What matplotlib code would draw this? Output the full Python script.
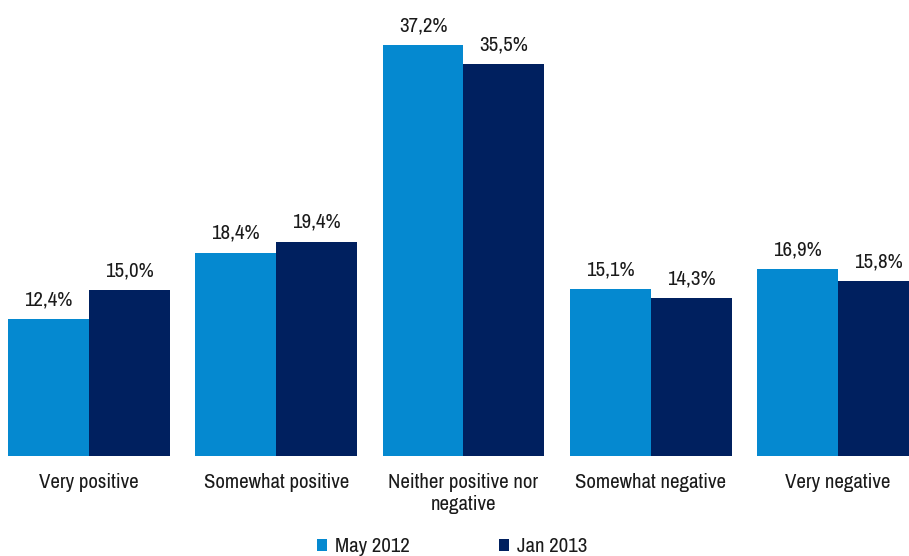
import matplotlib
matplotlib.use("Agg")
import matplotlib.pyplot as plt
from matplotlib import font_manager
import numpy as np

categories = ["Very positive", "Somewhat positive", "Neither positive nor\nnegative",
              "Somewhat negative", "Very negative"]
series_names = ["May 2012", "Jan 2013"]
may_2012 = [12.4, 18.4, 37.2, 15.1, 16.9]
jan_2013 = [15.0, 19.4, 35.5, 14.3, 15.8]
colors = ["#0589D0", "#00205F"]

avail = {f.name for f in font_manager.fontManager.ttflist}
fam = [f for f in ["Liberation Sans Narrow", "Archivo Narrow", "Liberation Sans", "DejaVu Sans"] if f in avail]
plt.rcParams['font.family'] = fam

FS = 15
W, H = 909, 556
fig = plt.figure(figsize=(W / 100, H / 100), dpi=100)
base_px = 456
ax = fig.add_axes([0, (H - base_px) / H, 1, base_px / H])

x = np.arange(len(categories))
bw = 0.432
b1 = ax.bar(x - bw / 2, may_2012, bw, color=colors[0], label=series_names[0])
b2 = ax.bar(x + bw / 2, jan_2013, bw, color=colors[1], label=series_names[1])

for bars, vals in ((b1, may_2012), (b2, jan_2013)):
    for b, v in zip(bars, vals):
        ax.annotate(f"{v:.1f}%".replace(".", ","),
                    (b.get_x() + b.get_width() / 2, b.get_height()),
                    xytext=(0, 7), textcoords="offset points",
                    ha="center", va="bottom", fontsize=FS, color="#1a1a1a")

px_per_unit = 187.25
ax.set_xlim(-89 / px_per_unit, (W - 89) / px_per_unit)
ax.set_ylim(0, base_px / (411 / 37.2))

ax.set_xticks(x)
ax.set_xticklabels(categories, fontsize=FS, color="#1a1a1a", linespacing=1.2)
ax.tick_params(axis="x", length=0, pad=12)
ax.set_yticks([])
for s in ax.spines.values():
    s.set_visible(False)

fig.legend(handles=[b1, b2], labels=series_names, loc="center",
           bbox_to_anchor=(452 / W, 1 - 547 / H), ncol=2, frameon=False,
           fontsize=FS, handlelength=0.5, handleheight=0.5, columnspacing=4.3,
           handletextpad=0.35, labelcolor="#1a1a1a")

fig.savefig("out.png", dpi=100)
